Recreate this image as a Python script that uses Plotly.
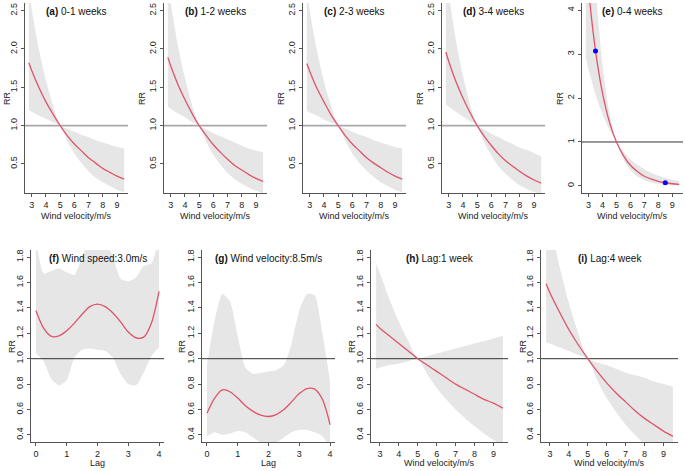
import plotly.graph_objects as go

W, H = 685, 471

# ---------------- data ----------------
WIND = [2.8, 3.0, 3.5, 4.0, 4.5, 5.0, 5.5, 6.0, 6.5, 7.0, 7.5, 8.0, 8.5, 9.0, 9.5]
LAG = [0, 0.25, 0.5, 0.75, 1, 1.25, 1.5, 1.75, 2, 2.25, 2.5, 2.75, 3, 3.25, 3.5, 3.75, 4]
REF_RR = 1.0

a_rr = [1.82, 1.72, 1.50, 1.31, 1.15, 1.0, 0.87, 0.76, 0.67, 0.58, 0.51, 0.44, 0.39, 0.34, 0.30]
a_hi = [2.76, 2.52, 2.00, 1.59, 1.26, 1.0, 0.96, 0.92, 0.88, 0.85, 0.81, 0.78, 0.75, 0.72, 0.70]
a_lo = [1.20, 1.18, 1.13, 1.09, 1.04, 1.0, 0.80, 0.64, 0.51, 0.40, 0.32, 0.26, 0.21, 0.16, 0.13]

b_rr = [1.89, 1.78, 1.54, 1.34, 1.16, 1.0, 0.87, 0.75, 0.65, 0.56, 0.48, 0.42, 0.36, 0.31, 0.27]
b_hi = [2.88, 2.61, 2.05, 1.62, 1.27, 1.0, 0.95, 0.90, 0.86, 0.82, 0.78, 0.74, 0.70, 0.67, 0.65]
b_lo = [1.25, 1.22, 1.16, 1.11, 1.05, 1.0, 0.79, 0.62, 0.49, 0.38, 0.30, 0.24, 0.19, 0.15, 0.115]

c_rr = [1.81, 1.71, 1.49, 1.31, 1.14, 1.0, 0.87, 0.76, 0.67, 0.58, 0.51, 0.45, 0.39, 0.34, 0.30]
c_hi = [2.74, 2.50, 1.99, 1.58, 1.26, 1.0, 0.96, 0.92, 0.88, 0.85, 0.81, 0.78, 0.75, 0.72, 0.70]
c_lo = [1.19, 1.17, 1.13, 1.08, 1.04, 1.0, 0.80, 0.64, 0.51, 0.41, 0.33, 0.26, 0.21, 0.16, 0.13]

d_rr = [1.96, 1.84, 1.58, 1.36, 1.17, 1.0, 0.86, 0.74, 0.63, 0.54, 0.47, 0.40, 0.34, 0.29, 0.25]
d_hi = [3.00, 2.72, 2.12, 1.65, 1.28, 1.0, 0.95, 0.89, 0.85, 0.80, 0.76, 0.71, 0.68, 0.64, 0.60]
d_lo = [1.28, 1.25, 1.18, 1.12, 1.06, 1.0, 0.78, 0.61, 0.47, 0.37, 0.29, 0.22, 0.17, 0.135, 0.105]

e_rr = [5.20, 4.46, 3.07, 2.11, 1.45, 1.0, 0.69, 0.47, 0.33, 0.22, 0.154, 0.106, 0.073, 0.050, 0.035]
e_hi = [9.20, 7.50, 4.55, 2.75, 1.66, 1.0, 0.78, 0.61, 0.48, 0.38, 0.30, 0.23, 0.18, 0.14, 0.11]
e_lo = [2.92, 2.65, 2.08, 1.63, 1.28, 1.0, 0.60, 0.36, 0.22, 0.13, 0.08, 0.048, 0.029, 0.018, 0.011]
e_pts_x = [3.5, 8.5]
e_pts_y = [3.07, 0.073]

f_rr = [1.38, 1.24, 1.175, 1.18, 1.22, 1.28, 1.35, 1.41, 1.43, 1.41, 1.36, 1.29, 1.21, 1.165, 1.17, 1.28, 1.53]
f_hi = [1.95, 1.67, 1.69, 1.71, 1.68, 1.66, 1.80, 1.95, 2.00, 1.95, 1.80, 1.63, 1.61, 1.64, 1.73, 1.75, 1.95]
f_lo = [1.04, 0.98, 0.84, 0.79, 0.83, 1.01, 1.07, 1.08, 1.07, 1.06, 1.01, 0.88, 0.80, 0.79, 0.89, 1.02, 1.09]

g_rr = [0.57, 0.69, 0.755, 0.74, 0.69, 0.63, 0.585, 0.555, 0.545, 0.56, 0.60, 0.66, 0.725, 0.765, 0.76, 0.68, 0.48]
g_hi = [0.95, 1.30, 1.51, 1.45, 1.18, 0.93, 0.88, 0.89, 0.90, 0.91, 0.95, 1.12, 1.38, 1.51, 1.50, 1.20, 0.82]
g_lo = [0.39, 0.42, 0.40, 0.41, 0.43, 0.42, 0.38, 0.34, 0.32, 0.34, 0.38, 0.42, 0.44, 0.44, 0.42, 0.39, 0.30]

h_rr = [1.27, 1.24, 1.18, 1.12, 1.06, 1.0, 0.95, 0.90, 0.85, 0.80, 0.76, 0.72, 0.68, 0.65, 0.61]
h_hi = [1.75, 1.67, 1.47, 1.29, 1.14, 1.0, 1.02, 1.04, 1.06, 1.08, 1.10, 1.12, 1.14, 1.16, 1.18]
h_lo = [0.92, 0.93, 0.95, 0.96, 0.98, 1.0, 0.88, 0.77, 0.68, 0.60, 0.53, 0.47, 0.41, 0.36, 0.32]

i_rr = [1.59, 1.52, 1.37, 1.23, 1.11, 1.0, 0.90, 0.81, 0.73, 0.66, 0.59, 0.53, 0.48, 0.43, 0.39]
i_hi = [2.24, 2.08, 1.73, 1.44, 1.20, 1.0, 0.97, 0.95, 0.92, 0.89, 0.87, 0.85, 0.82, 0.80, 0.78]
i_lo = [1.13, 1.12, 1.09, 1.06, 1.03, 1.0, 0.83, 0.69, 0.58, 0.48, 0.40, 0.33, 0.28, 0.23, 0.19]

TITLES = [("(a)", "0-1 weeks"), ("(b)", "1-2 weeks"), ("(c)", "2-3 weeks"), ("(d)", "3-4 weeks"),
          ("(e)", "0-4 weeks"), ("(f)", "Wind speed:3.0m/s"), ("(g)", "Wind velocity:8.5m/s"),
          ("(h)", "Lag:1 week"), ("(i)", "Lag:4 week")]
X_LABELS = ["Wind velocity/m/s"] * 5 + ["Lag", "Lag", "Wind velocity/m/s", "Wind velocity/m/s"]
Y_LABEL = "RR"

WIND_TICKS = [3, 4, 5, 6, 7, 8, 9]
LAG_TICKS = [0, 1, 2, 3, 4]
TOP_Y_TICKS = [0.5, 1.0, 1.5, 2.0, 2.5]
E_Y_TICKS = [0, 1, 2, 3, 4]
BOT_Y_TICKS = [0.4, 0.6, 0.8, 1.0, 1.2, 1.4, 1.6, 1.8]

# ---------------- layout spec (pixels) ----------------
FONT = "Liberation Sans, Arial, sans-serif"
RED = "#DF536B"
BAND = "#E6E6E6"
AXC = "#555555"
TXT = "#222222"

series = [
    (WIND, a_rr, a_lo, a_hi), (WIND, b_rr, b_lo, b_hi), (WIND, c_rr, c_lo, c_hi),
    (WIND, d_rr, d_lo, d_hi), (WIND, e_rr, e_lo, e_hi), (LAG, f_rr, f_lo, f_hi),
    (LAG, g_rr, g_lo, g_hi), (WIND, h_rr, h_lo, h_hi), (WIND, i_rr, i_lo, i_hi),
]

top_rows = (3, 193)
bot_rows = (250, 442)
panels = [
    # x-left, x-right, rows, xrange, yrange, xticks, yticks, ref style, title y, xlabel y, RR x
    (25, 128, top_rows, [2.53, 9.77], [0.12, 2.6], WIND_TICKS, TOP_Y_TICKS, "light", 12, 216, 7),
    (164, 267, top_rows, [2.53, 9.77], [0.12, 2.6], WIND_TICKS, TOP_Y_TICKS, "light", 12, 216, 142),
    (303, 406, top_rows, [2.53, 9.77], [0.12, 2.6], WIND_TICKS, TOP_Y_TICKS, "light", 12, 216, 281),
    (442, 545, top_rows, [2.53, 9.77], [0.12, 2.6], WIND_TICKS, TOP_Y_TICKS, "light", 12, 216, 420),
    (582, 683, top_rows, [2.53, 9.77], [-0.16, 4.16], WIND_TICKS, E_Y_TICKS, "dark", 12, 216, 560),
    (31, 164, bot_rows, [-0.16, 4.16], [0.344, 1.856], LAG_TICKS, BOT_Y_TICKS, "dark", 258, 463, 12),
    (202, 335, bot_rows, [-0.16, 4.16], [0.344, 1.856], LAG_TICKS, BOT_Y_TICKS, "dark", 258, 463, 182),
    (371, 508, bot_rows, [2.53, 9.77], [0.344, 1.856], WIND_TICKS, BOT_Y_TICKS, "dark", 258, 463, 352),
    (541, 678, bot_rows, [2.53, 9.77], [0.344, 1.856], WIND_TICKS, BOT_Y_TICKS, "dark", 258, 463, 523),
]

fig = go.Figure()
annotations = []
layout_axes = {}

for k, ((xs, rr, lo, hi), spec) in enumerate(zip(series, panels), start=1):
    xl, xr, (yt, yb), xrng, yrng, xt, ytk, refstyle, ty, lx, rx = spec
    xa = "x" if k == 1 else f"x{k}"
    ya = "y" if k == 1 else f"y{k}"
    xname = "xaxis" if k == 1 else f"xaxis{k}"
    yname = "yaxis" if k == 1 else f"yaxis{k}"

    # band
    fig.add_trace(go.Scatter(x=xs, y=hi, mode="lines", line=dict(width=0, shape="spline", smoothing=0.6),
                             xaxis=xa, yaxis=ya, showlegend=False, hoverinfo="skip"))
    fig.add_trace(go.Scatter(x=xs, y=lo, mode="lines", line=dict(width=0, shape="spline", smoothing=0.6),
                             fill="tonexty", fillcolor=BAND,
                             xaxis=xa, yaxis=ya, showlegend=False, hoverinfo="skip"))
    # reference line
    if refstyle == "light":
        rl = dict(color="#A8A8A8", width=1.8)
    else:
        rl = dict(color="#333333", width=1)
    fig.add_trace(go.Scatter(x=xrng, y=[REF_RR, REF_RR], mode="lines", line=rl,
                             xaxis=xa, yaxis=ya, showlegend=False, hoverinfo="skip"))
    # curve
    fig.add_trace(go.Scatter(x=xs, y=rr, mode="lines", line=dict(color=RED, width=1.3, shape="spline", smoothing=0.8),
                             xaxis=xa, yaxis=ya, showlegend=False))
    if k == 5:
        fig.add_trace(go.Scatter(x=e_pts_x, y=e_pts_y, mode="markers",
                                 marker=dict(color="#0000FF", size=5),
                                 xaxis=xa, yaxis=ya, showlegend=False))

    layout_axes[xname] = dict(
        domain=[xl / W, xr / W], anchor=ya, range=xrng, showgrid=False, zeroline=False,
        showline=True, linecolor=AXC, linewidth=1, ticks="outside", ticklen=3, tickcolor=AXC,
        tickvals=xt, ticktext=[str(v) for v in xt], tickfont=dict(size=9, color=TXT, family=FONT),
    )
    if ytk is E_Y_TICKS:
        ytxt = [str(v) for v in ytk]
    else:
        ytxt = [f"{v:.1f}" for v in ytk]
    layout_axes[yname] = dict(
        domain=[1 - yb / H, 1 - yt / H], anchor=xa, range=yrng, showgrid=False, zeroline=False,
        showline=True, linecolor=AXC, linewidth=1, ticks="outside", ticklen=3, tickcolor=AXC,
        tickvals=ytk, ticktext=ytxt, tickangle=-90, tickfont=dict(size=9, color=TXT, family=FONT),
    )

    cx = (xl + xr) / 2 / W
    bold, rest = TITLES[k - 1]
    annotations.append(dict(text=f"<b>{bold}</b> {rest}", x=cx, y=1 - ty / H, xref="paper", yref="paper",
                            showarrow=False, xanchor="center", yanchor="middle",
                            font=dict(size=10, color="#111111", family=FONT)))
    annotations.append(dict(text=X_LABELS[k - 1], x=cx, y=1 - lx / H, xref="paper", yref="paper",
                            showarrow=False, xanchor="center", yanchor="middle",
                            font=dict(size=9, color=TXT, family=FONT)))
    annotations.append(dict(text=Y_LABEL, x=rx / W, y=1 - (yt + yb) / 2 / H, xref="paper", yref="paper",
                            showarrow=False, xanchor="center", yanchor="middle", textangle=-90,
                            font=dict(size=9, color=TXT, family=FONT)))

fig.update_layout(
    width=W, height=H, margin=dict(l=0, r=0, t=0, b=0),
    paper_bgcolor="white", plot_bgcolor="white",
    annotations=annotations, font=dict(family=FONT),
    **layout_axes,
)

fig.write_html("out.html", config={"displayModeBar": False},
               post_script="document.body.style.margin='0px';document.body.style.overflow='hidden';")
